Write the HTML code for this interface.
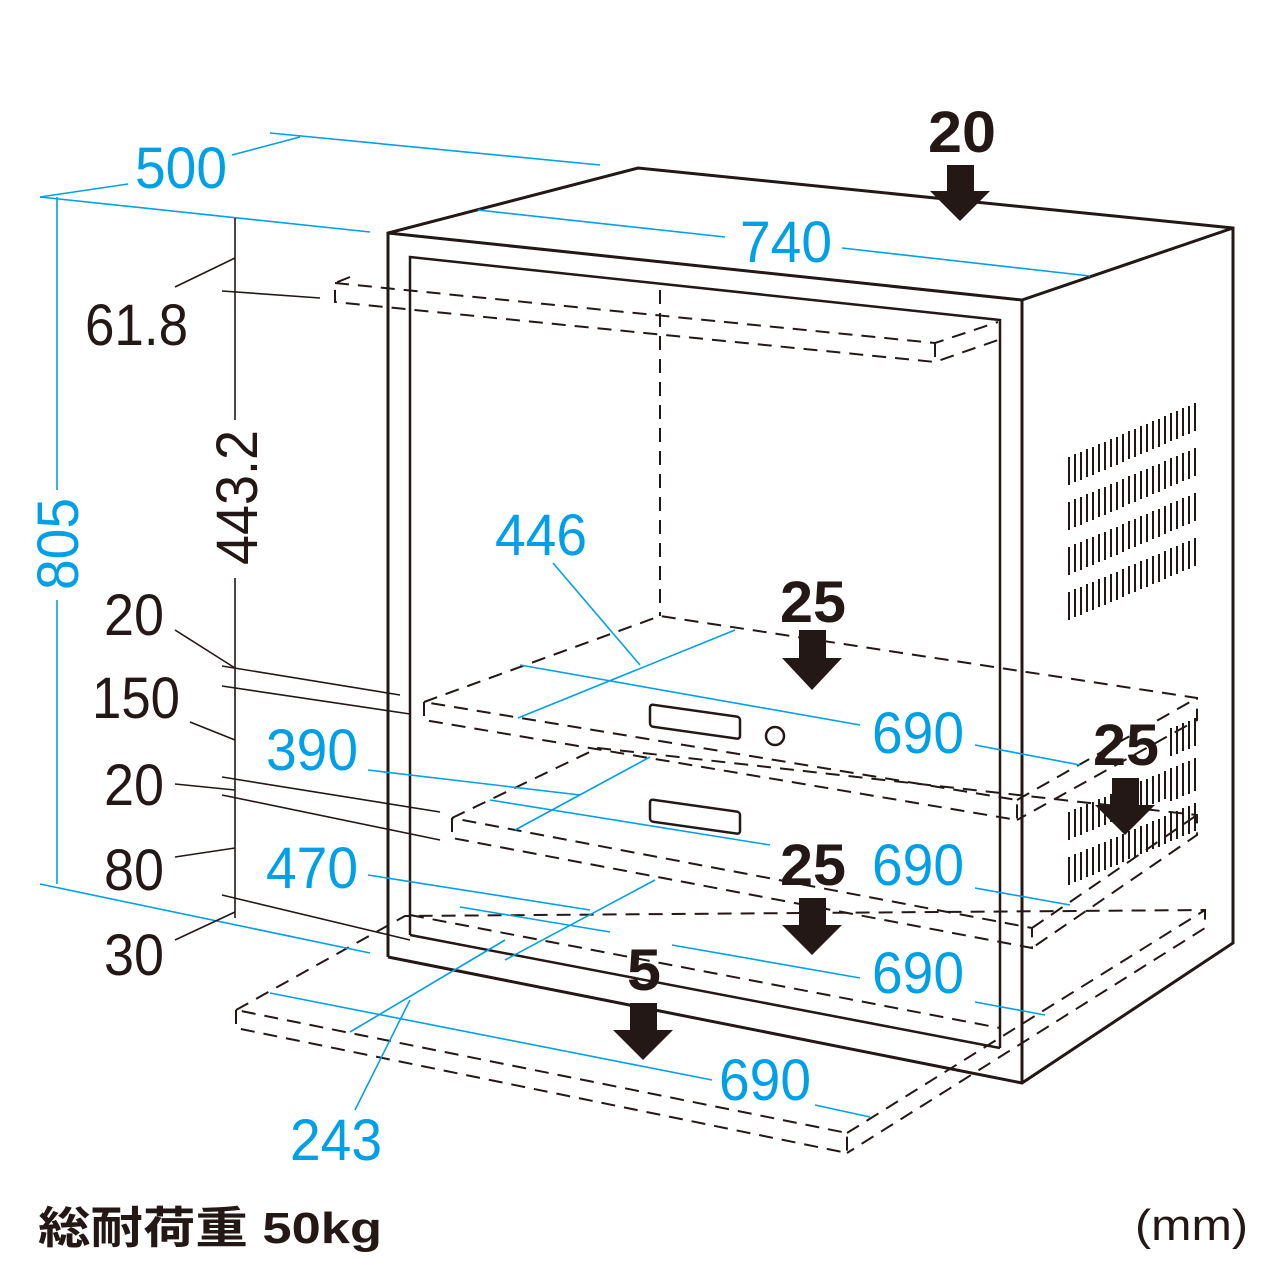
<!DOCTYPE html>
<html><head><meta charset="utf-8"><style>
html,body{margin:0;padding:0;background:#fff;}
svg{display:block;}
.b{stroke:#231815;fill:none;}
.d{stroke:#231815;fill:none;stroke-width:2;stroke-dasharray:14 9;}
.c{stroke:#00a0e9;fill:none;stroke-width:1.6;}
.t{font-family:"Liberation Sans",sans-serif;font-size:58px;}
.bl{fill:#00a0e9;}
.k{fill:#231815;}
.bd{font-weight:bold;fill:#231815;}
</style></head><body>
<svg width="1280" height="1280" viewBox="0 0 1280 1280" xmlns="http://www.w3.org/2000/svg">
<!-- cabinet -->
<g class="b" stroke-width="3">
<polyline points="388,957 388,233 638,168 1233,228 1233,943 1022,1083 388,957"/>
<polyline points="388,233 1022,300 1233,228"/>
<line x1="1022" y1="300" x2="1022" y2="1083"/>
</g>
<g class="b" stroke-width="2.5">
<polyline points="410,935 410,257 1000,320 1000,1048"/>
<line x1="410" y1="935" x2="1000" y2="1048"/>
</g>
<!-- vents -->
<g class="b" stroke-width="2">
<path id="v" d="M1069,457v28M1075,454v28M1081,452v28M1087,449v28M1093,447v28M1099,444v28M1105,442v28M1111,439v28M1117,437v28M1123,434v28M1129,431v28M1135,429v28M1141,426v28M1147,424v28M1153,421v28M1159,419v28M1165,416v28M1171,413v28M1177,411v28M1183,408v28M1189,406v28M1195,403v28"/>
<use href="#v" y="45"/><use href="#v" y="90"/><use href="#v" y="135"/>
<use href="#v" y="355"/><use href="#v" y="400"/>
<path d="M1171,728v28M1177,726v28M1183,723v28M1189,721v28M1195,718v28M1171,773v28M1177,771v28M1183,768v28M1189,766v28M1195,763v28"/>
</g>
<!-- shelves dashed -->
<g class="d">
<polyline points="350,277 335,283 335,302 935,362 998,340"/>
<polyline points="335,283 935,343 998,322"/>
<line x1="935" y1="343" x2="935" y2="362"/>
<line x1="660" y1="290" x2="660" y2="616"/>
<polyline points="424,702 660,616 1197,698 1197,720 1017,820"/>
<polyline points="424,702 424,720 1017,820 1017,800 424,702"/>
<line x1="1017" y1="800" x2="1197" y2="698"/>
<polyline points="452,818 598,748 1197,815 1197,835 1032,948"/>
<polyline points="452,818 452,838 1032,948 1032,928 452,818"/>
<line x1="1032" y1="928" x2="1197" y2="815"/>
<polyline points="236,1010 405,916 1205,910 1205,928 847,1153"/>
<polyline points="236,1010 236,1028 847,1153 847,1133 236,1010"/>
<line x1="847" y1="1133" x2="1205" y2="910"/>
<line x1="410" y1="915" x2="1000" y2="1028"/>
</g>
<!-- drawer handles -->
<g class="b" stroke-width="2.5">
<rect x="650" y="705" width="90" height="22" rx="3" transform="skewY(8) translate(0,-92)"/>
<circle cx="775" cy="736" r="9"/>
<rect x="650" y="800" width="90" height="22" rx="3" transform="skewY(8) translate(0,-92)"/>
</g>
<!-- blue dims -->
<g class="c">
<line x1="40" y1="197" x2="370" y2="232"/>
<line x1="40" y1="197" x2="128" y2="184"/>
<line x1="232" y1="155" x2="300" y2="137"/>
<line x1="270" y1="133" x2="600" y2="165"/>
<line x1="57" y1="197" x2="57" y2="490"/>
<line x1="57" y1="600" x2="57" y2="884"/>
<line x1="40" y1="884" x2="370" y2="953"/>
<line x1="478" y1="210" x2="725" y2="237"/>
<line x1="842" y1="248" x2="1090" y2="276"/>
<line x1="553" y1="563" x2="640" y2="665"/>
<line x1="518" y1="718" x2="735" y2="630"/>
<line x1="520" y1="665" x2="860" y2="725"/>
<line x1="975" y1="745" x2="1080" y2="765"/>
<line x1="368" y1="770" x2="580" y2="795"/>
<line x1="515" y1="830" x2="650" y2="757"/>
<line x1="490" y1="800" x2="770" y2="845"/>
<line x1="975" y1="888" x2="1070" y2="905"/>
<line x1="368" y1="875" x2="590" y2="910"/>
<line x1="505" y1="960" x2="655" y2="880"/>
<line x1="460" y1="907" x2="610" y2="932"/>
<line x1="672" y1="945" x2="860" y2="978"/>
<line x1="975" y1="1002" x2="1045" y2="1015"/>
<line x1="355" y1="1110" x2="410" y2="1000"/>
<line x1="350" y1="1032" x2="505" y2="940"/>
<line x1="270" y1="993" x2="712" y2="1080"/>
<line x1="815" y1="1105" x2="870" y2="1117"/>
</g>
<!-- black leaders -->
<g class="b" stroke-width="1.6">
<line x1="235" y1="218" x2="235" y2="420"/>
<line x1="235" y1="578" x2="235" y2="918"/>
<line x1="175" y1="287" x2="235" y2="258"/>
<line x1="222" y1="291" x2="320" y2="298"/>
<line x1="175" y1="630" x2="235" y2="668"/>
<line x1="222" y1="666" x2="400" y2="695"/>
<line x1="222" y1="686" x2="410" y2="714"/>
<line x1="190" y1="722" x2="235" y2="740"/>
<line x1="175" y1="784" x2="235" y2="790"/>
<line x1="222" y1="777" x2="440" y2="812"/>
<line x1="222" y1="795" x2="440" y2="840"/>
<line x1="175" y1="857" x2="235" y2="848"/>
<line x1="175" y1="940" x2="235" y2="912"/>
<line x1="222" y1="895" x2="410" y2="940"/>
</g>
<!-- arrows -->
<g fill="#231815">
<path d="M947,165h27v26h16l-30,30l-30,-30h17z"/>
<path d="M799,630h27v28h16l-30,32l-30,-32h17z"/>
<path d="M1112,778h27v27h16l-30,30l-30,-30h17z"/>
<path d="M799,898h27v27h16l-30,30l-30,-30h17z"/>
<path d="M630,1003h27v27h16l-30,30l-30,-30h17z"/>
</g>
<!-- texts -->
<g class="t">
<text class="bl" x="135" y="188" textLength="92" lengthAdjust="spacingAndGlyphs">500</text>
<text class="bl" transform="translate(78,590) rotate(-90)" textLength="92" lengthAdjust="spacingAndGlyphs">805</text>
<text class="bl" x="740" y="262" textLength="92" lengthAdjust="spacingAndGlyphs">740</text>
<text class="bd" x="928" y="152" textLength="68" lengthAdjust="spacingAndGlyphs">20</text>
<text class="k" x="85" y="345" textLength="103" lengthAdjust="spacingAndGlyphs">61.8</text>
<text class="k" transform="translate(257,565) rotate(-90)" textLength="135" lengthAdjust="spacingAndGlyphs">443.2</text>
<text class="bl" x="495" y="555" textLength="92" lengthAdjust="spacingAndGlyphs">446</text>
<text class="bd" x="780" y="622" textLength="66" lengthAdjust="spacingAndGlyphs">25</text>
<text class="k" x="104" y="635" textLength="60" lengthAdjust="spacingAndGlyphs">20</text>
<text class="k" x="92" y="718" textLength="88" lengthAdjust="spacingAndGlyphs">150</text>
<text class="bl" x="266" y="770" textLength="92" lengthAdjust="spacingAndGlyphs">390</text>
<text class="bl" x="872" y="753" textLength="92" lengthAdjust="spacingAndGlyphs">690</text>
<text class="bd" x="1093" y="765" textLength="66" lengthAdjust="spacingAndGlyphs">25</text>
<text class="k" x="104" y="805" textLength="60" lengthAdjust="spacingAndGlyphs">20</text>
<text class="k" x="104" y="890" textLength="60" lengthAdjust="spacingAndGlyphs">80</text>
<text class="bl" x="266" y="888" textLength="92" lengthAdjust="spacingAndGlyphs">470</text>
<text class="bd" x="780" y="885" textLength="66" lengthAdjust="spacingAndGlyphs">25</text>
<text class="bl" x="872" y="885" textLength="92" lengthAdjust="spacingAndGlyphs">690</text>
<text class="k" x="104" y="975" textLength="60" lengthAdjust="spacingAndGlyphs">30</text>
<text class="bd" x="627" y="990" textLength="34" lengthAdjust="spacingAndGlyphs">5</text>
<text class="bl" x="872" y="993" textLength="92" lengthAdjust="spacingAndGlyphs">690</text>
<text class="bl" x="719" y="1100" textLength="92" lengthAdjust="spacingAndGlyphs">690</text>
<text class="bl" x="290" y="1160" textLength="92" lengthAdjust="spacingAndGlyphs">243</text>
</g>
<text x="38" y="1243" font-family="'Liberation Sans','Noto Sans CJK JP',sans-serif" font-weight="bold" font-size="44" fill="#231815" textLength="344" lengthAdjust="spacingAndGlyphs">総耐荷重 50kg</text>
<text x="1135" y="1240" font-family="'Liberation Sans',sans-serif" font-size="44" fill="#231815" textLength="113" lengthAdjust="spacingAndGlyphs">(mm)</text>
</svg>
</body></html>
